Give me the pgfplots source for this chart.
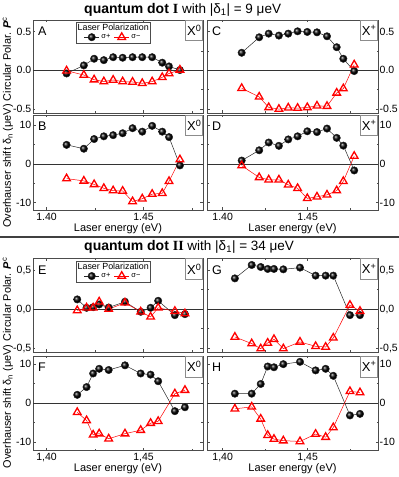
\documentclass[border=0pt]{standalone}
\usepackage{fontspec}
\setmainfont{Liberation Sans}
\newfontfamily\serifbf{Liberation Serif}
\usepackage{pgfplots}
\usepackage{pgfplotstable}
\pgfplotsset{compat=1.18}
\usetikzlibrary{fit}

\pgfplotstableread{
x pA mA pB mB
1.4103 -0.040 -0.005 4.9 -3.8
1.4192 0.064 -0.060 3.9 -4.4
1.4245 0.150 -0.120 6.4 -5.3
1.4295 0.132 -0.145 7.1 -6.3
1.4343 0.170 -0.124 7.4 -6.9
1.4392 0.163 -0.145 7.9 -7.0
1.4443 0.170 -0.150 9.2 -9.7
1.4493 0.170 -0.167 8.3 -9.0
1.4544 0.170 -0.145 9.8 -7.8
1.4596 0.099 -0.090 8.3 -7.6
1.4631 0.051 -0.040 6.9 -4.5
1.4687 0.004 0.006 -0.4 1.1
}\tabAB

\pgfplotstableread{
x pC mC pD mD
1.4112 0.227 -0.231 0.85 -0.45
1.4215 0.427 -0.342 3.5 -3.5
1.4271 0.474 -0.478 5.5 -4.1
1.4331 0.449 -0.500 4.65 -4.1
1.4386 0.474 -0.483 6.3 -5.4
1.4441 0.504 -0.487 7.1 -6.3
1.4498 0.496 -0.478 8.4 -8.9
1.4555 0.491 -0.458 8.2 -8.5
1.4614 0.440 -0.462 9.1 -8.0
1.4671 0.299 -0.291 6.7 -6.9
1.4710 0.150 -0.235 4.7 -4.5
1.4774 -0.009 0.073 -1.7 2.0
}\tabCD

\pgfplotstableread{
x pE mE pF mF
1.4158 0.125 -0.017 2.1 -2.4
1.4206 0.017 0.017 4.1 -4.5
1.4240 0.025 0.017 7.6 -8.2
1.4271 0.060 0.095 8.8 -7.9
1.4320 0.021 0.000 8.5 -9.2
1.4404 0.095 0.082 9.7 -7.9
1.4485 -0.034 -0.034 7.6 -7.0
1.4536 0.017 -0.099 7.3 -5.2
1.4575 0.107 0.017 5.6 -4.7
1.4661 -0.077 -0.026 -2.1 2.4
1.4713 -0.064 -0.056 -1.1 3.3
}\tabEF

\pgfplotstableread{
x pG mG pH mH
1.4072 0.395 -0.357 2.4 -1.5
1.4171 0.567 -0.442 2.4 -1.0
1.4224 0.541 -0.507 4.9 -4.1
1.4265 0.516 -0.434 9.4 -8.3
1.4302 0.516 -0.387 9.2 -9.3
1.4357 0.511 -0.507 10.0 -9.7
1.4455 0.533 -0.421 10.6 -9.9
1.4547 0.430 -0.477 8.4 -8.0
1.4606 0.430 -0.486 8.8 -8.8
1.4651 0.430 -0.369 7.0 -6.3
1.4749 -0.077 0.052 -3.2 3.0
1.4808 -0.077 -0.026 -2.8 2.7
}\tabGH

\pgfplotsset{
  panel/.style={scale only axis, clip=false,
    axis line style={black!70, line width=0.6pt},
    every tick/.style={black!70, line width=0.5pt},
    tick align=inside, major tick length=2.5pt, minor tick length=1.5pt,
    xtick={1.40,1.45}, minor xtick={1.425,1.475}, xticklabels={},
    tick label style={font=\fontsize{10.5}{10.5}\selectfont},
    yticklabel style={inner xsep=1.5pt},
    extra y ticks={0}, extra y tick labels={},
    extra y tick style={grid=major, major grid style={black!80, line width=0.7pt}, major tick length=0pt},
  },
  L/.style={panel, width=170pt, xmin=1.393, xmax=1.4806, yticklabel pos=left},
  R/.style={panel, width=171pt, xmin=1.3908, xmax=1.4914, yticklabel pos=right},
  pol/.style={ymin=-0.55, ymax=0.65, ytick={-0.5,0,0.5}, minor ytick={-0.25,0.25}},
  sh/.style={ytick={-10,0,10}, yticklabels={-10,0,10}, minor ytick={-5,5}},
  sp/.style={black!85, line width=0.5pt, mark=ball, mark size=3.7pt, mark options={ball color=black}},
  sm/.style={red, line width=0.5pt, mark=triangle, mark size=4.4pt, mark options={fill=white, line width=1.3pt, solid}},
  leg/.style 2 args={legend style={name=#2, at={(0.472,#1)}, anchor=center, draw=none, fill=none,
      legend columns=2, font=\fontsize{7.5}{7.5}\selectfont, inner sep=0.5pt,
      /tikz/every even column/.append style={column sep=1.5pt}},
    legend image code/.code={\draw[mark repeat=2,mark phase=2] plot coordinates {(0pt,0pt) (7.5pt,0pt) (15pt,0pt)};}},
}
\newcommand\corner[1]{\node[anchor=north west, inner sep=0pt, xshift=5pt, yshift=-7pt, font=\fontsize{12.5}{12.5}\selectfont] at (rel axis cs:0,1) {#1};}
\newcommand\xbox[1]{\node[anchor=north east, draw=black!45, line width=0.6pt, fill=white, inner sep=0pt, minimum width=17pt, minimum height=20.5pt, font=\fontsize{13}{13}\selectfont] at (rel axis cs:1,1) {#1};}
\newcommand\xlab{\node[font=\fontsize{11}{11}\selectfont, yshift=-18.5pt] at (rel axis cs:0.5,0) {Laser energy (eV)};}
\newcommand\legtitle[1]{%
  \node[font=\fontsize{8.9}{8.9}\selectfont, anchor=south, inner sep=0.8pt] (#1t) at (#1.north) {Laser Polarization};
  \node[draw=black!70, line width=0.5pt, fit=(#1)(#1t), inner sep=0.6pt] {};}

\begin{document}
\begin{tikzpicture}
\useasboundingbox (0pt,0pt) rectangle (399pt,477pt);

% ---------- quantum dot I ----------
\node[anchor=west, inner sep=0pt] at (84pt,467pt) {\fontsize{14}{14}\selectfont\bfseries quantum dot {\serifbf I}\mdseries\fontsize{13.5}{14}\selectfont\ with |δ\textsubscript{1}| = 9 μeV};

\begin{axis}[L, pol, at={(33pt,364pt)}, anchor=south west, height=93pt,
  yticklabels={-0.5,0.0,0.5}, leg={0.815}{legA}]
\addplot[sp] table[x=x,y=pA] {\tabAB}; \addlegendentry{σ+}
\addplot[sm] table[x=x,y=mA] {\tabAB}; \addlegendentry{σ−}
\corner{A}\xbox{X\textsuperscript{0}}
\end{axis}
\legtitle{legA}

\begin{axis}[L, sh, at={(33pt,267pt)}, anchor=south west, height=95pt,
  ymin=-11.9, ymax=12.6, xticklabels={1.40,1.45}]
\addplot[sp] table[x=x,y=pB] {\tabAB};
\addplot[sm] table[x=x,y=mB] {\tabAB};
\corner{B}\xbox{X\textsuperscript{0}}\xlab
\end{axis}

\begin{axis}[R, pol, at={(207pt,364pt)}, anchor=south west, height=93pt,
  yticklabels={-0.5,0.0,0.5}]
\addplot[sp] table[x=x,y=pC] {\tabCD};
\addplot[sm] table[x=x,y=mC] {\tabCD};
\corner{C}\xbox{X\textsuperscript{+}}
\end{axis}

\begin{axis}[R, sh, at={(207pt,267pt)}, anchor=south west, height=95pt,
  ymin=-11.9, ymax=12.6, xticklabels={1.40,1.45}]
\addplot[sp] table[x=x,y=pD] {\tabCD};
\addplot[sm] table[x=x,y=mD] {\tabCD};
\corner{D}\xbox{X\textsuperscript{+}}\xlab
\end{axis}

\node[rotate=90, inner sep=0pt, font=\fontsize{10.9}{10.9}\selectfont] at (8pt,354.5pt) {Overhauser shift δ\textsubscript{n} (μeV) Circular Polar. \textbf{\textit{P}}\textsuperscript{c}};

\draw[black!75, line width=1.6pt] (0pt,240pt) -- (399pt,240pt);

% ---------- quantum dot II ----------
\node[anchor=west, inner sep=0pt] at (84pt,230pt) {\fontsize{14}{14}\selectfont\bfseries quantum dot {\serifbf II}\mdseries\fontsize{13.5}{14}\selectfont\ with |δ\textsubscript{1}| = 34 μeV};

\begin{axis}[L, pol, at={(33pt,125pt)}, anchor=south west, height=93.5pt,
  yticklabels={{-0,5},{0,0},{0,5}}, leg={0.812}{legE}]
\addplot[sp] table[x=x,y=pE] {\tabEF}; \addlegendentry{σ+}
\addplot[sm] table[x=x,y=mE] {\tabEF}; \addlegendentry{σ−}
\corner{E}\xbox{X\textsuperscript{0}}
\end{axis}
\legtitle{legE}

\begin{axis}[L, sh, at={(33pt,27pt)}, anchor=south west, height=94pt,
  ymin=-12.1, ymax=12.1, xticklabels={{1,40},{1,45}}]
\addplot[sp] table[x=x,y=pF] {\tabEF};
\addplot[sm] table[x=x,y=mF] {\tabEF};
\corner{F}\xbox{X\textsuperscript{0}}\xlab
\end{axis}

\begin{axis}[R, pol, at={(207pt,125pt)}, anchor=south west, height=93.5pt,
  yticklabels={{-0,5},{0,0},{0,5}}]
\addplot[sp] table[x=x,y=pG] {\tabGH};
\addplot[sm] table[x=x,y=mG] {\tabGH};
\corner{G}\xbox{X\textsuperscript{+}}
\end{axis}

\begin{axis}[R, sh, at={(207pt,27pt)}, anchor=south west, height=94pt,
  ymin=-12.1, ymax=12.1, xticklabels={{1,40},{1,45}}]
\addplot[sp] table[x=x,y=pH] {\tabGH};
\addplot[sm] table[x=x,y=mH] {\tabGH};
\corner{H}\xbox{X\textsuperscript{+}}\xlab
\end{axis}

\node[rotate=90, inner sep=0pt, font=\fontsize{10.9}{10.9}\selectfont] at (8pt,114pt) {Overhauser shift δ\textsubscript{n} (μeV) Circular Polar. \textbf{\textit{P}}\textsuperscript{c}};

\end{tikzpicture}
\end{document}
